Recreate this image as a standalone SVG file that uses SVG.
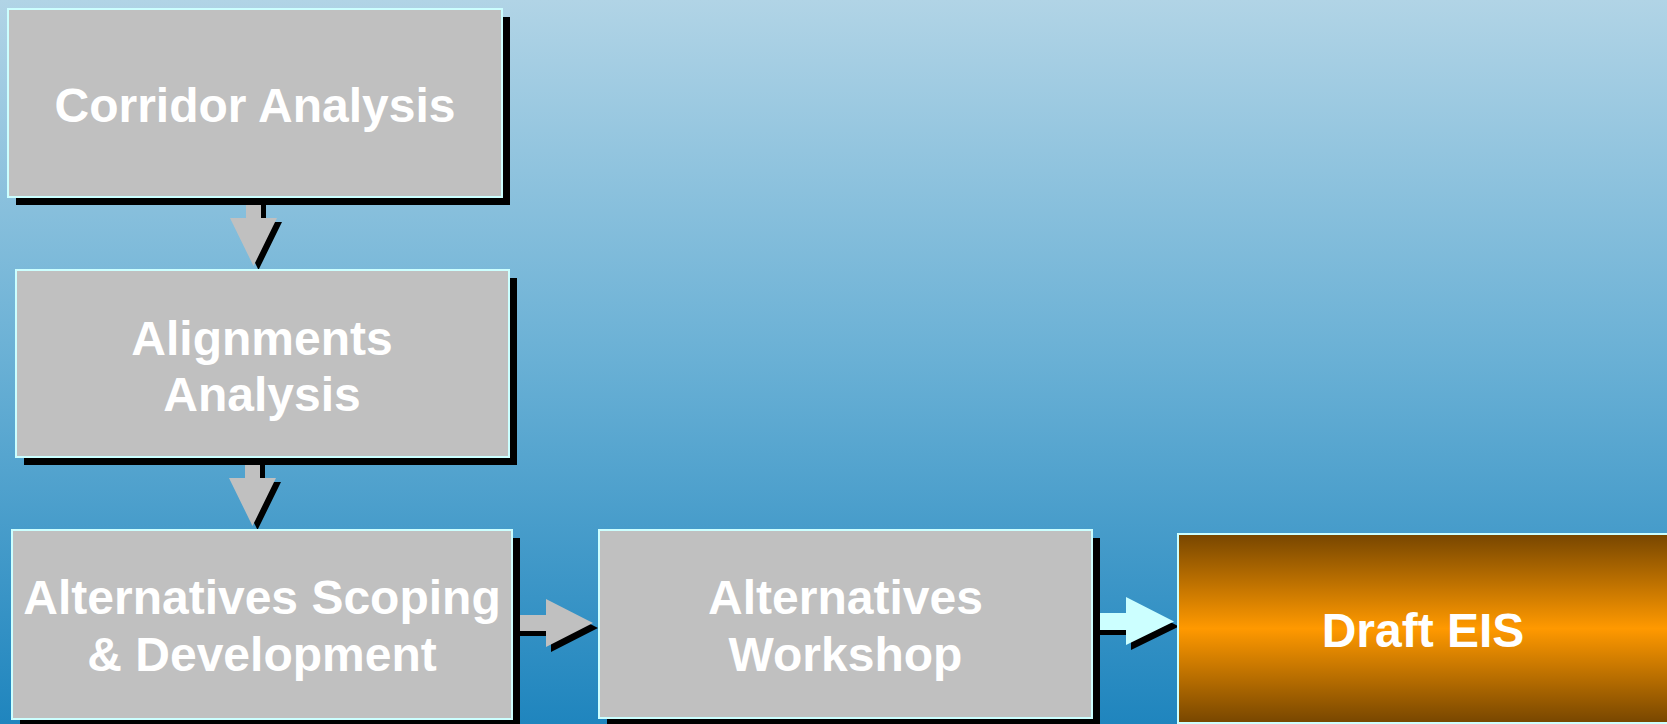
<svg xmlns="http://www.w3.org/2000/svg" width="1667" height="724" viewBox="0 0 1667 724">
  <defs>
    <linearGradient id="bg" x1="0" y1="0" x2="0" y2="1">
      <stop offset="0" stop-color="#b1d4e6"/>
      <stop offset="0.5" stop-color="#69b0d5"/>
      <stop offset="1" stop-color="#1f85be"/>
    </linearGradient>
    <linearGradient id="orange" x1="0" y1="0" x2="0" y2="1">
      <stop offset="0" stop-color="#774600"/>
      <stop offset="0.5" stop-color="#ff9900"/>
      <stop offset="1" stop-color="#774600"/>
    </linearGradient>
    <style>
      .shadow { fill: #000000; }
      .box { fill: #c0c0c0; stroke: #ccffff; stroke-width: 2; }
      .eis { fill: url(#orange); stroke: #ccffff; stroke-width: 2; }
      .label { font-family: "Liberation Sans", Arial, sans-serif; font-weight: bold; font-size: 48px; fill: #ffffff; text-anchor: middle; }
      .arr { fill: #c0c0c0; }
      .arr-cyan { fill: #ccffff; }
      .arr-shadow { fill: #000000; }
    </style>
  </defs>
  <rect x="0" y="0" width="1667" height="724" fill="url(#bg)"/>

  <g id="connectors">
    <!-- Corridor -> Alignments -->
    <polygon class="arr-shadow" transform="translate(5,4)" points="246,197 261,197 261,218 277,218 253.5,266 230,218 246,218"/>
    <polygon class="arr" points="246,197 261,197 261,218 277,218 253.5,266 230,218 246,218"/>
    <!-- Alignments -> Alternatives Scoping -->
    <polygon class="arr-shadow" transform="translate(5,4)" points="245,457 260,457 260,478 276,478 252.5,526 229,478 245,478"/>
    <polygon class="arr" points="245,457 260,457 260,478 276,478 252.5,526 229,478 245,478"/>
    <!-- Alternatives Scoping -> Workshop -->
    <polygon class="arr-shadow" transform="translate(5,5)" points="512,615 546,615 546,599 593,623 546,647 546,631 512,631"/>
    <polygon class="arr" points="512,615 546,615 546,599 593,623 546,647 546,631 512,631"/>
    <!-- Workshop -> Draft EIS -->
    <polygon class="arr-shadow" transform="translate(5,5)" points="1092,613 1126,613 1126,597 1174,621.5 1126,645 1126,630 1092,630"/>
    <polygon class="arr-cyan" points="1092,613 1126,613 1126,597 1174,621.5 1126,645 1126,630 1092,630"/>
  </g>

  <g id="node-corridor">
    <rect class="shadow" x="16" y="17" width="494" height="188"/>
    <rect class="box" x="8" y="9" width="494" height="188"/>
    <text class="label" x="255" y="122">Corridor Analysis</text>
  </g>

  <g id="node-alignments">
    <rect class="shadow" x="24" y="278" width="493" height="187"/>
    <rect class="box" x="16" y="270" width="493" height="187"/>
    <text class="label" x="262" y="355">Alignments</text>
    <text class="label" x="262" y="411">Analysis</text>
  </g>

  <g id="node-scoping">
    <rect class="shadow" x="20" y="538" width="500" height="189"/>
    <rect class="box" x="12" y="530" width="500" height="189"/>
    <text class="label" x="262" y="614">Alternatives Scoping</text>
    <text class="label" x="262" y="671">&amp; Development</text>
  </g>

  <g id="node-workshop">
    <rect class="shadow" x="607" y="538" width="493" height="188"/>
    <rect class="box" x="599" y="530" width="493" height="188"/>
    <text class="label" x="845.5" y="614">Alternatives</text>
    <text class="label" x="845.5" y="671">Workshop</text>
  </g>

  <g id="node-draft-eis">
    <rect class="eis" x="1178" y="534" width="490" height="189"/>
    <text class="label" x="1423" y="647">Draft EIS</text>
  </g>
</svg>
